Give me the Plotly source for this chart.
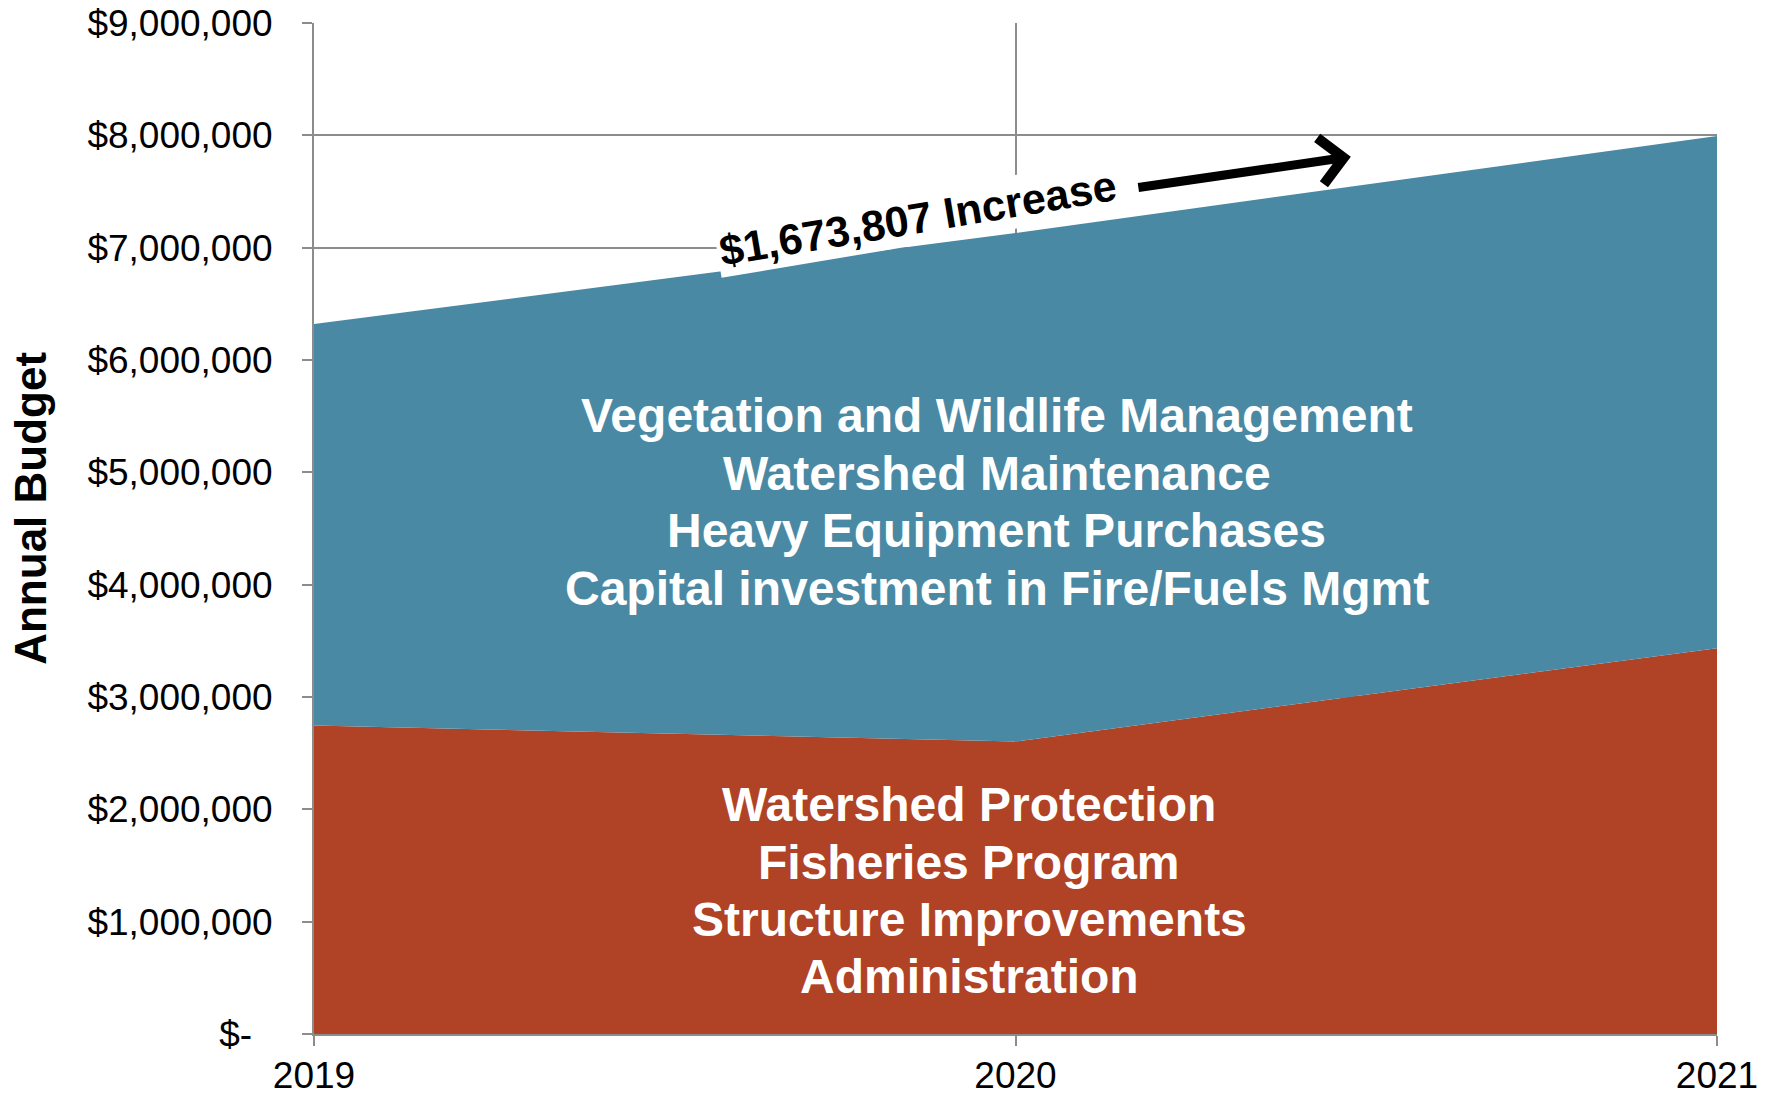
import plotly.graph_objects as go

# ---- data ----
years = [2019, 2020, 2021]
base_programs = [2746000, 2604000, 3435000]        # red layer
growth_programs = [3574000, 4526000, 4558807]      # blue layer (stacked on top)
y_tick_vals = [0, 1e6, 2e6, 3e6, 4e6, 5e6, 6e6, 7e6, 8e6, 9e6]
y_tick_text = ["$-\u00a0\u00a0", "$1,000,000", "$2,000,000", "$3,000,000", "$4,000,000",
               "$5,000,000", "$6,000,000", "$7,000,000", "$8,000,000", "$9,000,000"]
x_tick_text = ["2019", "2020", "2021"]
blue_labels = ["Vegetation and Wildlife Management", "Watershed Maintenance",
               "Heavy Equipment Purchases", "Capital investment in Fire/Fuels Mgmt"]
red_labels = ["Watershed Protection", "Fisheries Program",
              "Structure Improvements", "Administration"]
increase_label = "$1,673,807 Increase"

RED = "#B04225"
BLUE = "#4A89A4"
GRID = "#8C8C8C"
FONT = "Liberation Sans, Arial, sans-serif"

fig = go.Figure()
fig.add_trace(go.Scatter(x=years, y=base_programs, stackgroup="one", mode="none",
                         fillcolor=RED, line=dict(width=0), hoverinfo="skip"))
fig.add_trace(go.Scatter(x=years, y=growth_programs, stackgroup="one", mode="none",
                         fillcolor=BLUE, line=dict(width=0), hoverinfo="skip"))

# area labels (one annotation per line for exact line spacing)
blue_y = [5.507e6, 4.994e6, 4.480e6, 3.967e6]
red_y = [2.044e6, 1.530e6, 1.017e6, 0.513e6]
for txt, yy in zip(blue_labels, blue_y):
    fig.add_annotation(x=2019.973, y=yy, text=f"<b>{txt}</b>", showarrow=False,
                       font=dict(family=FONT, size=48, color="white"),
                       xanchor="center", yanchor="middle")
for txt, yy in zip(red_labels, red_y):
    fig.add_annotation(x=2019.934, y=yy, text=f"<b>{txt}</b>", showarrow=False,
                       font=dict(family=FONT, size=48, color="white"),
                       xanchor="center", yanchor="middle")

# increase label with white background
fig.add_annotation(x=2019.861, y=7.26e6, text=f"<b>{increase_label}</b>", showarrow=False,
                   textangle=-9.5, bgcolor="white", borderpad=2,
                   font=dict(family=FONT, size=43, color="black"),
                   xanchor="center", yanchor="middle")
# arrow
fig.add_annotation(x=2020.478, y=7.81e6, ax=2020.173, ay=7.533e6,
                   xref="x", yref="y", axref="x", ayref="y",
                   text="", showarrow=True, arrowhead=4, arrowsize=1.0,
                   arrowwidth=9, arrowcolor="black")

# y-axis title as annotation
fig.add_annotation(xref="paper", yref="paper", x=0, y=0.52, xshift=-283.5,
                   text="<b>Annual Budget</b>", textangle=-90, showarrow=False,
                   font=dict(family=FONT, size=44, color="black"),
                   xanchor="center", yanchor="middle")

fig.update_layout(
    width=1765, height=1088,
    margin=dict(l=306, r=56, t=15, b=62, autoexpand=False),
    plot_bgcolor="white", paper_bgcolor="white",
    showlegend=False,
    font=dict(family=FONT, size=37, color="black"),
)
fig.update_xaxes(range=[2019, 2021], tickvals=years, ticktext=x_tick_text,
                 showgrid=True, gridcolor=GRID, gridwidth=1.5,
                 showline=True, linecolor=GRID, linewidth=2,
                 ticks="outside", ticklen=10, tickcolor=GRID, tickwidth=2,
                 ticklabelstandoff=-2, ticklabeloverflow="allow",
                 tickfont=dict(family=FONT, size=37, color="black"),
                 zeroline=False, fixedrange=True, automargin=False)
fig.update_yaxes(range=[0, 9e6], tickvals=y_tick_vals, ticktext=y_tick_text,
                 showgrid=True, gridcolor=GRID, gridwidth=1.5,
                 showline=True, linecolor=GRID, linewidth=2,
                 ticks="outside", ticklen=10, tickcolor=GRID, tickwidth=2,
                 ticklabelstandoff=22, ticklabeloverflow="allow",
                 tickfont=dict(family=FONT, size=37, color="black"),
                 zeroline=False, fixedrange=True, automargin=False)

fig.write_html("out.html")
